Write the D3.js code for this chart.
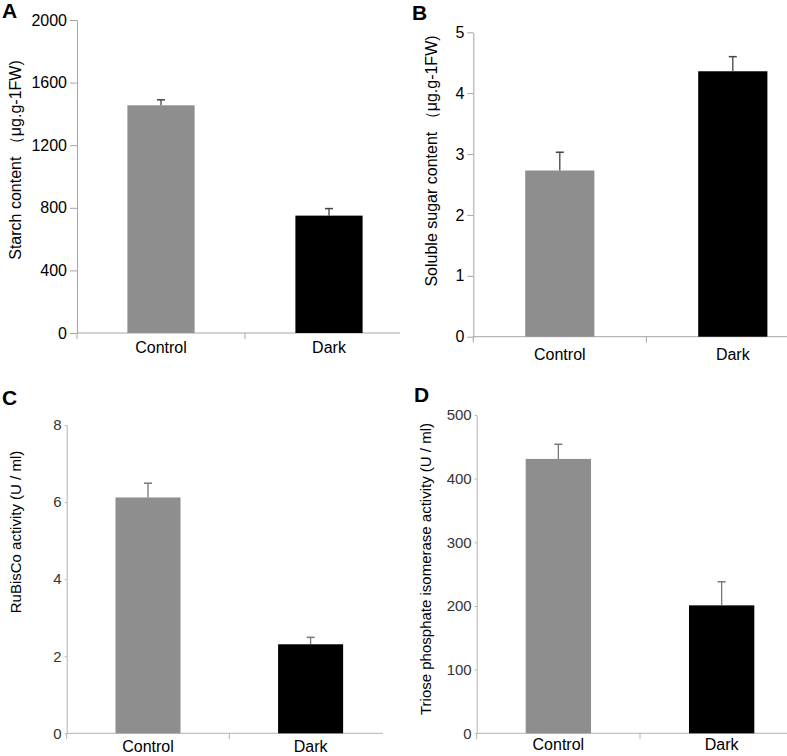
<!DOCTYPE html>
<html>
<head>
<meta charset="utf-8">
<script src="https://cdn.jsdelivr.net/npm/d3@7"></script>
<style>
  body { margin: 0; background: #fff; }
  svg { display: block; }
  svg text { font-family: "Liberation Sans", Arial, sans-serif; }
</style>
</head>
<body>
<svg id="chart" width="787" height="756"></svg>
<script>
const categories = ["Control", "Dark"];
const barColors = ["#8e8e8e", "#000000"];

// panel A: starch
const starchMeans = [1455, 750];
const starchErrors = [35, 45];
const starchTicks = [0, 400, 800, 1200, 1600, 2000];

// panel B: soluble sugar
const sugarMeans = [2.73, 4.36];
const sugarErrors = [0.30, 0.24];
const sugarTicks = [0, 1, 2, 3, 4, 5];

// panel C: RuBisCo
const rubiscoMeans = [6.12, 2.31];
const rubiscoErrors = [0.37, 0.18];
const rubiscoTicks = [0, 2, 4, 6, 8];

// panel D: triose phosphate isomerase
const tpiMeans = [431, 201];
const tpiErrors = [23, 37];
const tpiTicks = [0, 100, 200, 300, 400, 500];

const svg = d3.select("#chart");

const drawPanel = (opt) => {
  const g = svg.append("g");

  var y = d3.scaleLinear()
      .domain([0, d3.max(opt.ticks)])
      .range([opt.y0, opt.yTop]);

  var x = d3.scaleBand()
      .domain(categories)
      .range([opt.x0, opt.x0 + 2 * opt.band])
      .paddingInner(opt.pad)
      .paddingOuter(opt.pad / 2);

  // y axis
  var yAxis = d3.axisLeft(y)
      .tickValues(opt.ticks)
      .tickFormat(d3.format("d"))
      .tickSize(opt.tickLen)
      .tickSizeOuter(0);
  var ya = g.append("g")
      .attr("transform", "translate(" + opt.x0 + ",0)")
      .call(yAxis);
  ya.attr("font-family", null);
  ya.select(".domain").attr("stroke", opt.axisColor);
  ya.selectAll(".tick line").attr("stroke", opt.axisColor);
  ya.selectAll(".tick text")
      .attr("font-size", opt.tickFont)
      .attr("fill", opt.tickColor)
      .attr("x", -opt.tickLen - 3);

  // x axis line + boundary ticks
  g.append("line")
      .attr("x1", opt.x0).attr("x2", opt.xEnd)
      .attr("y1", opt.y0).attr("y2", opt.y0)
      .attr("stroke", opt.axisColor);
  var bounds = categories.map((c, i) => opt.x0 + i * x.step());
  g.selectAll(".xtick").data(bounds).enter()
      .append("line")
      .attr("x1", (d) => d).attr("x2", (d) => d)
      .attr("y1", opt.y0).attr("y2", opt.y0 + 6)
      .attr("stroke", opt.axisColor);

  // bars
  g.selectAll(".bar").data(opt.means).enter()
      .append("rect")
      .attr("x", (d, i) => x(categories[i]))
      .attr("y", (d) => y(d))
      .attr("width", x.bandwidth())
      .attr("height", (d) => opt.y0 - y(d))
      .attr("fill", (d, i) => barColors[i]);

  // error bars
  var cx = (i) => x(categories[i]) + x.bandwidth() / 2;
  g.selectAll(".err").data(opt.means).enter()
      .append("line")
      .attr("x1", (d, i) => cx(i)).attr("x2", (d, i) => cx(i))
      .attr("y1", (d) => y(d))
      .attr("y2", (d, i) => y(d + opt.errors[i]))
      .attr("stroke", opt.errColor)
      .attr("stroke-width", 1.3);
  g.selectAll(".cap").data(opt.means).enter()
      .append("line")
      .attr("x1", (d, i) => cx(i) - 4).attr("x2", (d, i) => cx(i) + 4)
      .attr("y1", (d, i) => y(d + opt.errors[i]))
      .attr("y2", (d, i) => y(d + opt.errors[i]))
      .attr("stroke", opt.errColor)
      .attr("stroke-width", 1.5);

  // category labels
  g.selectAll(".cat").data(categories).enter()
      .append("text")
      .attr("x", (d) => x(d) + x.bandwidth() / 2)
      .attr("y", opt.catY)
      .attr("text-anchor", "middle")
      .attr("font-size", 16)
      .attr("fill", "#000")
      .text((d) => d);

  // y label
  g.append("text")
      .attr("transform", "translate(" + opt.labelX + "," + opt.labelY + ") rotate(-90)")
      .attr("text-anchor", "middle")
      .attr("dominant-baseline", "central")
      .attr("font-size", opt.labelFont)
      .attr("fill", "#000")
      .text(opt.label);

  // panel letter
  g.append("text")
      .attr("x", opt.letterX).attr("y", opt.letterY)
      .attr("font-size", 21)
      .attr("font-weight", "bold")
      .text(opt.letter);
};

drawPanel({
  letter: "A", letterX: 2, letterY: 18,
  means: starchMeans, errors: starchErrors, ticks: starchTicks,
  x0: 77, band: 168, pad: 0.6, xEnd: 400, y0: 333, yTop: 20,
  tickLen: 7, tickFont: 16, tickColor: "#000", axisColor: "#a6a6a6", errColor: "#444",
  catY: 353, label: "Starch content （μg.g-1FW)", labelX: 15, labelY: 160, labelFont: 16
});

drawPanel({
  letter: "B", letterX: 412, letterY: 20,
  means: sugarMeans, errors: sugarErrors, ticks: sugarTicks,
  x0: 473.3, band: 173, pad: 0.6, xEnd: 787, y0: 336.7, yTop: 32.3,
  tickLen: 6, tickFont: 16, tickColor: "#000", axisColor: "#a6a6a6", errColor: "#444",
  catY: 360, label: "Soluble sugar content （μg.g-1FW)", labelX: 431, labelY: 161, labelFont: 16
});

drawPanel({
  letter: "C", letterX: 2, letterY: 405,
  means: rubiscoMeans, errors: rubiscoErrors, ticks: rubiscoTicks,
  x0: 66.7, band: 162.6, pad: 0.6, xEnd: 383, y0: 733.3, yTop: 425,
  tickLen: 2, tickFont: 15, tickColor: "#333", axisColor: "#b3b3b3", errColor: "#777",
  catY: 752, label: "RuBisCo activity (U / ml)", labelX: 15, labelY: 532, labelFont: 15
});

drawPanel({
  letter: "D", letterX: 414, letterY: 402,
  means: tpiMeans, errors: tpiErrors, ticks: tpiTicks,
  x0: 476.7, band: 163.3, pad: 0.6, xEnd: 787, y0: 733.3, yTop: 415,
  tickLen: 2, tickFont: 15, tickColor: "#333", axisColor: "#b3b3b3", errColor: "#777",
  catY: 750, label: "Triose phosphate isomerase activity (U / ml)", labelX: 425, labelY: 569, labelFont: 15
});
</script>
</body>
</html>
